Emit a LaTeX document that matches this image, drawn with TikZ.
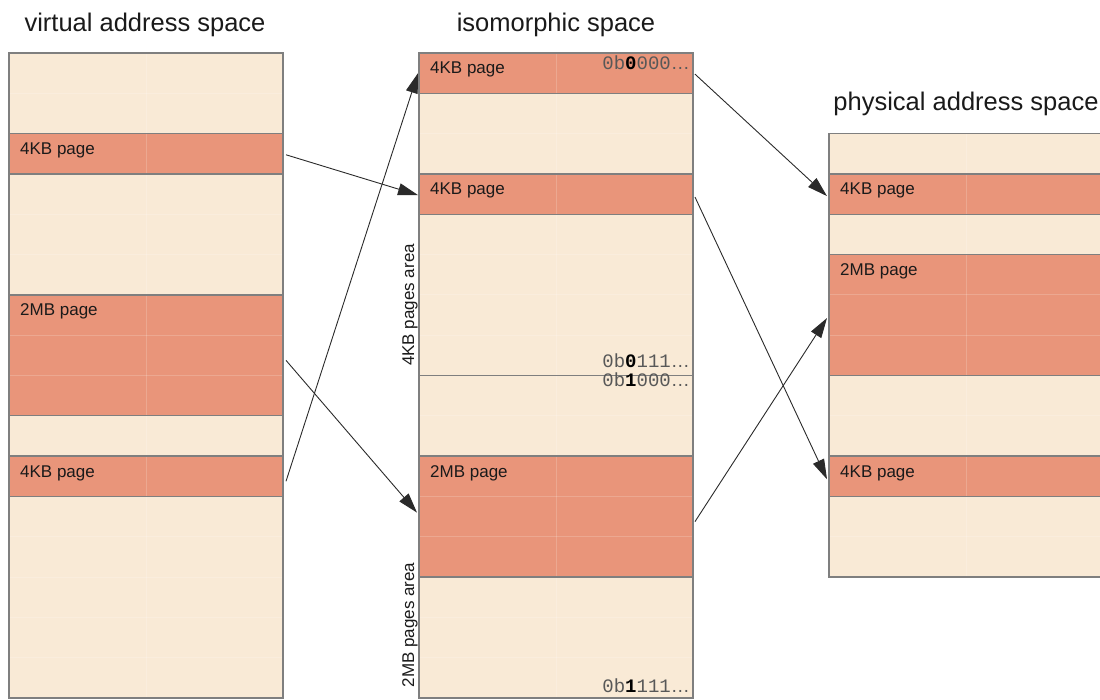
\documentclass[tikz,border=0pt]{standalone}
\usepackage{fontspec}
\setmainfont{Liberation Sans}
\newfontfamily\monof{Liberation Mono}
\usetikzlibrary{arrows.meta,calc}
\definecolor{pagefill}{HTML}{E9957A}
\definecolor{freefill}{HTML}{F9EAD6}
\definecolor{edge}{HTML}{7F7F7F}
\definecolor{ink}{HTML}{1A1A1A}
\definecolor{bingray}{HTML}{585858}
\definecolor{arrowink}{HTML}{2A2A2A}
% one band of rows in a column: name, left x, first row, row count, fill style
\newcommand\band[5]{%
  \node[#5, minimum width=274pt, minimum height=#4*40.3125pt, anchor=north west]
    (#1) at (#2, {53+#3*40.3125}) {};}
\newcommand\ellip{{\rmfamily …}}
\begin{document}
\begin{tikzpicture}[x=1pt, y=-1pt,
  bandbox/.style={inner sep=0pt, outer sep=0pt, draw=none},
  pageband/.style={bandbox, fill=pagefill},
  freeband/.style={bandbox, fill=freefill},
  border/.style={draw=edge, line width=1.3pt},
  gridline/.style={draw=white, opacity=0.18, line width=0.9pt},
  title/.style={text=ink, inner sep=0pt, font=\fontsize{25.5pt}{30pt}\selectfont},
  lbl/.style={text=ink, inner sep=0pt, font=\fontsize{17pt}{20pt}\selectfont},
  bin/.style={text=bingray, inner sep=0pt, font=\fontsize{19pt}{22pt}\selectfont\monof},
  map/.style={draw=arrowink, line width=0.9pt, -{Triangle[length=20pt,width=12pt]}}]
\useasboundingbox (0,0) rectangle (1100,700);
\clip (0,0) rectangle (1100,700);

% ---- titles
\node[title, anchor=base] (tv) at (145,32) {virtual address space};
\node[title, anchor=base] (ti) at (556,32) {isomorphic space};
\node[title, anchor=base] (tp) at (966,111) {physical address space};

% ---- virtual address space
\band{l0}{9}{0}{2}{freeband}
\band{l2}{9}{2}{1}{pageband}
\band{l3}{9}{3}{3}{freeband}
\band{l6}{9}{6}{3}{pageband}
\band{l9}{9}{9}{1}{freeband}
\band{l10}{9}{10}{1}{pageband}
\band{l11}{9}{11}{5}{freeband}

% ---- isomorphic space
\band{m0}{419}{0}{1}{pageband}
\band{m1}{419}{1}{2}{freeband}
\band{m3}{419}{3}{1}{pageband}
\band{m4}{419}{4}{4}{freeband}
\band{m8}{419}{8}{2}{freeband}
\band{m10}{419}{10}{3}{pageband}
\band{m13}{419}{13}{3}{freeband}

% ---- physical address space
\band{r2}{829}{2}{1}{freeband}
\band{r3}{829}{3}{1}{pageband}
\band{r4}{829}{4}{1}{freeband}
\band{r5}{829}{5}{3}{pageband}
\band{r8}{829}{8}{2}{freeband}
\band{r10}{829}{10}{1}{pageband}
\band{r11}{829}{11}{2}{freeband}

% ---- faint row grid
\foreach \cx in {9,419} {
  \draw[gridline] (\cx+137,53) -- (\cx+137,698);
  \foreach \r in {1,...,15}
    \draw[gridline] (\cx,{53+\r*40.3125}) -- (\cx+274,{53+\r*40.3125});
}
\draw[gridline] (966,{53+2*40.3125}) -- (966,{53+13*40.3125});
\foreach \r in {3,...,12}
  \draw[gridline] (829,{53+\r*40.3125}) -- (1103,{53+\r*40.3125});

% ---- band borders
\foreach \n in {l0,l2,l3,l6,l9,l10,l11,m0,m1,m3,m4,m8,m10,m13,r2,r3,r4,r5,r8,r10,r11}
  \draw[border] (\n.north west) rectangle (\n.south east);

% ---- page labels
\node[lbl, anchor=base west] (l2t) at ($(l2.north west)+(11,21)$) {4KB page};
\node[lbl, anchor=base west] (l6t) at ($(l6.north west)+(11,21)$) {2MB page};
\node[lbl, anchor=base west] (l10t) at ($(l10.north west)+(11,21)$) {4KB page};
\node[lbl, anchor=base west] (m0t) at ($(m0.north west)+(11,21)$) {4KB page};
\node[lbl, anchor=base west] (m3t) at ($(m3.north west)+(11,21)$) {4KB page};
\node[lbl, anchor=base west] (m10t) at ($(m10.north west)+(11,21)$) {2MB page};
\node[lbl, anchor=base west] (r3t) at ($(r3.north west)+(11,21)$) {4KB page};
\node[lbl, anchor=base west] (r5t) at ($(r5.north west)+(11,21)$) {2MB page};
\node[lbl, anchor=base west] (r10t) at ($(r10.north west)+(11,21)$) {4KB page};

% ---- address prefixes
\node[bin, anchor=base east] (b0) at (690,69.5) {0b\textbf{\color{black}0}000\ellip};
\node[bin, anchor=base east] (b1) at (690,367) {0b\textbf{\color{black}0}111\ellip};
\node[bin, anchor=base east] (b2) at (690,387) {0b\textbf{\color{black}1}000\ellip};
\node[bin, anchor=base east] (b3) at (690,692) {0b\textbf{\color{black}1}111\ellip};

% ---- area labels
\node[lbl, rotate=90, anchor=base] (a4) at (414,305) {4KB pages area};
\node[lbl, rotate=90, anchor=base] (a2) at (414,625) {2MB pages area};

% ---- mappings
\draw[map] ($(l2.east)+(3,1)$) -- ($(m3.west)+(-1,1)$);
\draw[map] ($(l6.east)+(3,5)$) -- ($(m10.west)+(-2,-4)$);
\draw[map] ($(l10.east)+(3,5)$) -- ($(m0.west)+(-1,0)$);
\draw[map] ($(m0.east)+(2,1)$) -- ($(r3.west)+(-2,2)$);
\draw[map] ($(m3.east)+(2,3)$) -- ($(r10.west)+(-2,3)$);
\draw[map] ($(m10.east)+(2,5)$) -- ($(r5.west)+(-2,3)$);
\end{tikzpicture}
\end{document}
